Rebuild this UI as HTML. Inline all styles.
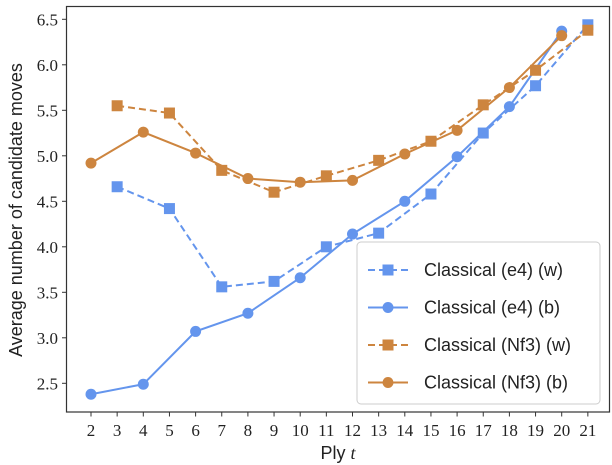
<!DOCTYPE html>
<html><head><meta charset="utf-8"><style>
html,body{margin:0;padding:0;background:#fff;width:612px;height:465px;overflow:hidden}
svg text{font-family:"Liberation Serif",serif;fill:#222}
</style></head><body>
<svg id="s" width="612" height="465" xmlns="http://www.w3.org/2000/svg"></svg>
<script>
const s=document.getElementById('s');
const X=t=>91+(t-2)*26.15, Y=v=>383.3-(v-2.5)*91;
let h='';
h+='<rect x="66.5" y="6.5" width="543" height="405.5" fill="none" stroke="#333" stroke-width="1.2"/>';
for(let v=2.5;v<=6.51;v+=0.5){const y=Y(v);h+=`<line x1="62" x2="66.5" y1="${y}" y2="${y}" stroke="#333"/><text x="58" y="${y+6}" font-size="17" text-anchor="end">${v.toFixed(1)}</text>`;}
for(let t=2;t<=21;t++){const x=X(t);h+=`<line x1="${x}" x2="${x}" y1="412" y2="416.5" stroke="#333"/><text x="${x}" y="436" font-size="17" text-anchor="middle">${t}</text>`;}
h+='<text x="338" y="459" font-size="18" text-anchor="middle" style="font-family:\'Liberation Sans\',sans-serif">Ply <tspan font-style="italic" style="font-family:\'Liberation Serif\',serif">t</tspan></text>';
h+='<text transform="translate(22,210) rotate(-90)" font-size="18" text-anchor="middle" style="font-family:\'Liberation Sans\',sans-serif">Average number of candidate moves</text>';
const B='#6495ED',O='#CD853F';
const S=[
 [B,true,'sq',[[3,4.66],[5,4.42],[7,3.56],[9,3.62],[11,4.00],[13,4.15],[15,4.58],[17,5.25],[19,5.77],[21,6.44]]],
 [B,false,'c',[[2,2.38],[4,2.49],[6,3.07],[8,3.27],[10,3.66],[12,4.14],[14,4.50],[16,4.99],[18,5.54],[20,6.37]]],
 [O,true,'sq',[[3,5.55],[5,5.47],[7,4.84],[9,4.60],[11,4.78],[13,4.95],[15,5.16],[17,5.56],[19,5.94],[21,6.38]]],
 [O,false,'c',[[2,4.92],[4,5.26],[6,5.03],[8,4.75],[10,4.71],[12,4.73],[14,5.02],[16,5.28],[18,5.75],[20,6.32]]]];
const mk=(m,x,y,c)=>m=='sq'?`<rect x="${x-5.5}" y="${y-5.5}" width="11" height="11" fill="${c}"/>`:`<circle cx="${x}" cy="${y}" r="5.5" fill="${c}"/>`;
for(const [c,d,m,p] of S){
 h+=`<polyline fill="none" stroke="${c}" stroke-width="2" ${d?'stroke-dasharray="7,4"':''} points="${p.map(q=>X(q[0])+','+Y(q[1])).join(' ')}"/>`;
 for(const q of p)h+=mk(m,X(q[0]),Y(q[1]),c);
}
h+='<rect x="357" y="242" width="243" height="162" rx="4" fill="#fff" fill-opacity="0.85" stroke="#ccc"/>';
const L=['Classical (e4) (w)','Classical (e4) (b)','Classical (Nf3) (w)','Classical (Nf3) (b)'];
S.forEach((q,i)=>{const y=270+i*37.5;
 h+=`<line x1="368" x2="408" y1="${y}" y2="${y}" stroke="${q[0]}" stroke-width="2" ${q[1]?'stroke-dasharray="7,4"':''}/>`+mk(q[2],388,y,q[0]);
 h+=`<text x="424" y="${y+6}" font-size="18" style="font-family:'Liberation Sans',sans-serif">${L[i]}</text>`;});
s.innerHTML=h;
</script>
</body></html>
